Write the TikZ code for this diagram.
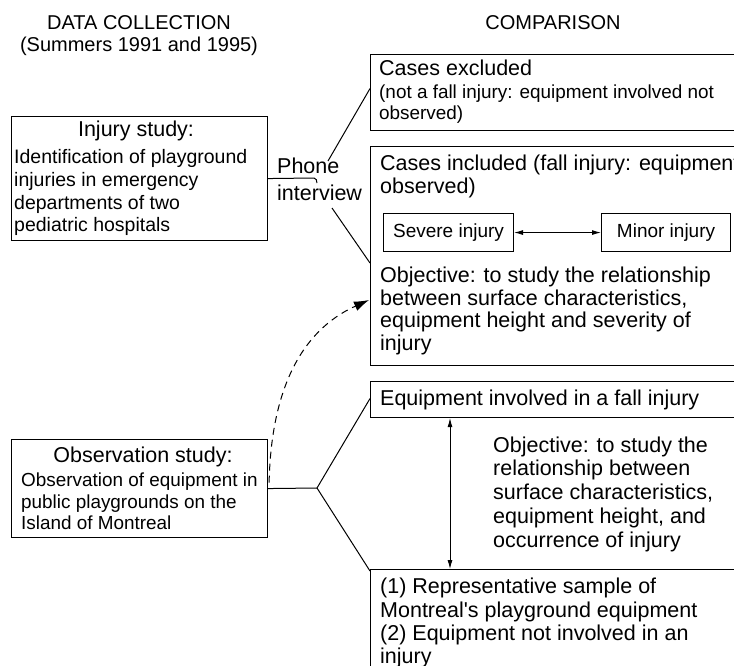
\documentclass[tikz,border=0pt]{standalone}
\usepackage{fontspec}
\setmainfont{Liberation Sans}[Ligatures=TeXOff]
\usetikzlibrary{arrows.meta,calc}
\begin{document}
\begin{tikzpicture}[x=1pt,y=-1pt,
  box/.style={draw,line width=1.1pt,inner sep=0pt,anchor=north west},
  big/.style={font=\fontsize{21.5}{24}\selectfont,inner sep=0pt},
  small/.style={font=\fontsize{19.5}{23}\selectfont,inner sep=0pt},
  smaller/.style={font=\fontsize{18.9}{23}\selectfont,inner sep=0pt},
  mid/.style={font=\fontsize{19}{23}\selectfont,inner sep=0pt},
  head/.style={font=\fontsize{20}{23}\selectfont,inner sep=0pt,anchor=base},
  lb/.style={anchor=base west},
  conn/.style={line width=1pt},
  dbl/.style={line width=0.9pt,{Latex[length=9pt,width=5pt]}-{Latex[length=9pt,width=5pt]}}]
\useasboundingbox (0,0) rectangle (734,665);
\clip (0,0) rectangle (734,665);
\fill[white] (0,0) rectangle (734,665);

% headers
\node[head] (h1) at (139,29) {DATA COLLECTION};
\node[head] (h2) at (139,51) {(Summers 1991 and 1995)};
\node[head] (h3) at (553,29) {COMPARISON};

% boxes
\node[box,minimum width=256pt,minimum height=124pt] (inj) at (11,116) {};
\node[box,minimum width=256pt,minimum height=98pt] (obs) at (11,439) {};
\node[box,minimum width=390pt,minimum height=76pt] (excl) at (370,54) {};
\node[box,minimum width=390pt,minimum height=219pt] (incl) at (370,146) {};
\node[box,minimum width=130pt,minimum height=38pt] (sev) at (383,213) {};
\node[box,minimum width=129pt,minimum height=38pt] (minr) at (601,213) {};
\node[box,minimum width=390pt,minimum height=36pt] (eq) at (370,381) {};
\node[box,minimum width=390pt,minimum height=130pt] (low) at (370,569) {};

% injury study text
\node[big,anchor=base] (i0) at (136,136) {Injury study:};
\node[small,lb] (i1) at (14,163) {Identification of playground};
\node[small,lb] (i2) at (14,186) {injuries in emergency};
\node[small,lb] (i3) at (14,209) {departments of two};
\node[small,lb] (i4) at (14,231) {pediatric hospitals};

% observation study text
\node[big,anchor=base] (o0) at (143,462) {Observation study:};
\node[smaller,lb] (o1) at (21,486) {Observation of equipment in};
\node[smaller,lb] (o2) at (21,508) {public playgrounds on the};
\node[smaller,lb] (o3) at (21,529) {Island of Montreal};

% phone interview
\node[big,lb] (p1) at (277,173) {Phone};
\node[big,lb] (p2) at (277,200) {interview};

% excluded
\node[big,lb] (e1) at (379,75) {Cases excluded};
\node[smaller,lb] (e2) at (379,98) {(not a fall injury: equipment involved not};
\node[smaller,lb] (e3) at (379,119) {observed)};

% included
\node[big,lb] (c1) at (380,170) {Cases included (fall injury: equipment};
\node[big,lb] (c2) at (380,193) {observed)};
\node[mid,anchor=center] (sevt) at (sev.center) {Severe injury};
\node[mid,anchor=center] (mint) at (minr.center) {Minor injury};
\node[big,lb] (c3) at (380,282) {Objective: to study the relationship};
\node[big,lb] (c4) at (380,305) {between surface characteristics,};
\node[big,lb] (c5) at (380,327) {equipment height and severity of};
\node[big,lb] (c6) at (380,350) {injury};

% equipment involved
\node[big,lb] (q1) at (380,405) {Equipment involved in a fall injury};
\node[big,lb] (b1) at (493,452) {Objective: to study the};
\node[big,lb] (b2) at (493,475) {relationship between};
\node[big,lb] (b3) at (493,499) {surface characteristics,};
\node[big,lb] (b4) at (493,523) {equipment height, and};
\node[big,lb] (b5) at (493,547) {occurrence of injury};

% lower box
\node[big,lb] (l1) at (380,593) {(1) Representative sample of};
\node[big,lb] (l2) at (380,617) {Montreal's playground equipment};
\node[big,lb] (l3) at (380,640) {(2) Equipment not involved in an};
\node[big,lb] (l4) at (380,663) {injury};

% connectors: phone interview
\coordinate (ph) at (314,178);
\coordinate (pu) at (328,161);
\coordinate (pd) at (332,208);
\draw[conn] (inj.east) -- (ph) to[out=0,in=95] (317,183);
\draw[conn] (pu) -- ($(excl.west)+(0,-4)$);
\draw[conn] (pd) -- (incl.west |- 0,263);

% connectors: observation study
\coordinate (ob) at (317,488);
\draw[conn] (obs.east) -- (ob) -- ($(eq.west)+(0,-1)$);
\draw[conn] (ob) -- ($(low.north west)+(0,2)$);

% double arrows
\draw[dbl] (sev.east) -- (minr.west);
\coordinate (va) at (450,0);
\draw[dbl] (eq.south -| va) -- (low.north -| va);

% dashed curve
\coordinate (dt) at (369,300);
\draw[line width=1pt,dash pattern=on 7pt off 5pt,-{Latex[length=15pt,width=10pt]}]
  ($(obs.east)+(1,-6)$) .. controls (271,395) and (298,332) .. (dt);
\end{tikzpicture}
\end{document}
